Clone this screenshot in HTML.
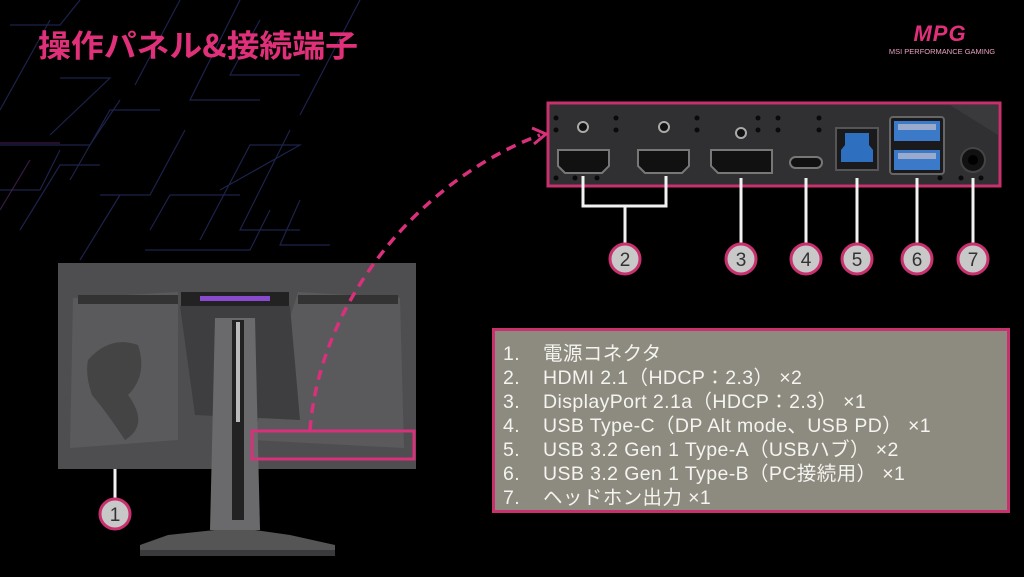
<!DOCTYPE html>
<html><head><meta charset="utf-8"><style>
html,body{margin:0;padding:0;background:#000;width:1024px;height:577px;overflow:hidden;font-family:"Liberation Sans","Noto Sans CJK JP",sans-serif}
svg{position:absolute;left:0;top:0}
.spec{position:absolute;left:492px;top:328px;width:512px;height:179px;background:#8d8a7f;border:3px solid #c8306e;box-sizing:content-box}
.spec div{position:absolute;left:8px;color:#f4f4f0;font-size:19.5px;line-height:24px;white-space:nowrap;letter-spacing:0.4px}
.spec span{display:inline-block;width:40px}
</style></head><body>
<svg width="1024" height="577" viewBox="0 0 1024 577">
<g fill="none" stroke="#232858" stroke-width="1.2" opacity="0.85">
<path d="M10 25 L60 25 L80 0"/><path d="M0 110 L50 20"/><path d="M50 135 L110 78 L60 78"/>
<path d="M70 180 L110 110 L160 110"/><path d="M100 195 L150 195 L185 130"/>
<path d="M0 145 L90 145 L120 100"/><path d="M20 230 L60 165 L100 165"/>
<path d="M120 195 L80 260"/><path d="M150 230 L170 195 L240 195"/>
<path d="M180 0 L135 85"/><path d="M240 0 L190 100 L260 100"/>
<path d="M220 190 L300 145 L250 145 L200 240"/><path d="M290 130 L240 230 L300 230"/>
<path d="M260 20 L230 75 L300 75"/><path d="M360 0 L300 115"/>
<path d="M145 250 L250 250 L270 210"/><path d="M0 190 L40 190 L60 150"/>
<path d="M300 200 L280 245 L330 245"/>
</g>
<g fill="none" stroke="#4a2258" stroke-width="1.2" opacity="0.8">
<path d="M0 143 L60 143"/><path d="M0 210 L30 160"/>
</g>
<!-- title -->
<text x="38" y="57" fill="#e0307a" font-size="31" font-weight="bold" font-family="'Noto Sans CJK JP',sans-serif" textLength="320" lengthAdjust="spacingAndGlyphs">操作パネル&amp;接続端子</text>
<!-- logo -->
<text x="940" y="41" fill="#e0307a" font-size="22" font-weight="bold" font-style="italic" text-anchor="middle" font-family="'Liberation Sans',sans-serif" letter-spacing="1">MPG</text>
<text x="942" y="54" fill="#e8a0c0" font-size="7.5" text-anchor="middle" font-family="'Liberation Sans',sans-serif">MSI PERFORMANCE GAMING</text>

<!-- port panel -->
<rect x="548" y="103" width="452" height="83" fill="#303033" stroke="#c8306e" stroke-width="3"/>
<path d="M950 105 L998 105 L998 135 Z" fill="#3a3a3d"/>
<g fill="#0a0a0a">
<circle cx="556" cy="118" r="2.5"/><circle cx="556" cy="130" r="2.5"/><circle cx="616" cy="118" r="2.5"/><circle cx="616" cy="130" r="2.5"/>
<circle cx="697" cy="118" r="2.5"/><circle cx="697" cy="130" r="2.5"/><circle cx="758" cy="118" r="2.5"/><circle cx="758" cy="130" r="2.5"/>
<circle cx="778" cy="118" r="2.5"/><circle cx="778" cy="130" r="2.5"/><circle cx="819" cy="118" r="2.5"/><circle cx="819" cy="130" r="2.5"/>
<circle cx="556" cy="178" r="2.5"/><circle cx="575" cy="178" r="2.5"/><circle cx="597" cy="178" r="2.5"/>
<circle cx="940" cy="178" r="2.5"/><circle cx="961" cy="178" r="2.5"/><circle cx="981" cy="178" r="2.5"/>
</g>
<g fill="#111" stroke="#aaa" stroke-width="2"><circle cx="583" cy="127" r="5"/><circle cx="664" cy="127" r="5"/><circle cx="741" cy="133" r="5"/></g>
<g fill="#111" stroke="#777" stroke-width="2">
<path d="M558 150 L609 150 L609 166 L602 173 L565 173 L558 166 Z"/>
<path d="M638 150 L689 150 L689 166 L682 173 L645 173 L638 166 Z"/>
<path d="M711 150 L772 150 L772 173 L718 173 L711 166 Z"/>
<rect x="790" y="157" width="32" height="11" rx="5.5"/>
</g>
<rect x="836" y="128" width="42" height="42" fill="#1a1a1c" stroke="#555" stroke-width="2"/>
<path d="M845 133 L869 133 L869 145 L873 150 L873 162 L841 162 L841 150 L845 145 Z" fill="#2f6fc0"/>
<rect x="890" y="117" width="54" height="57" rx="3" fill="#1a1a1c" stroke="#666" stroke-width="2"/>
<rect x="894" y="121" width="46" height="20" fill="#3a7ac8"/><rect x="894" y="150" width="46" height="20" fill="#3a7ac8"/>
<rect x="898" y="124" width="38" height="6" fill="#9ac"/><rect x="898" y="153" width="38" height="6" fill="#9ac"/>
<circle cx="973" cy="160" r="12" fill="#111" stroke="#444" stroke-width="2"/><circle cx="973" cy="160" r="5" fill="#000"/>

<!-- connector lines -->
<g stroke="#f2f2f2" stroke-width="3" fill="none">
<path d="M583 176 L583 206 L666 206 L666 176"/><path d="M625 206 L625 245"/>
<path d="M741 178 L741 245"/><path d="M806 178 L806 245"/><path d="M857 178 L857 245"/>
<path d="M917 178 L917 245"/><path d="M973 178 L973 245"/>
<path d="M115 457 L115 500"/>
</g>
<g stroke="#c8306e" stroke-width="3" fill="#c8c8c8">
<circle cx="625" cy="259" r="15"/><circle cx="741" cy="259" r="15"/><circle cx="806" cy="259" r="15"/>
<circle cx="857" cy="259" r="15"/><circle cx="917" cy="259" r="15"/><circle cx="973" cy="259" r="15"/>
<circle cx="115" cy="514" r="15"/>
</g>
<g fill="#333" font-size="19" text-anchor="middle" font-family="'Liberation Sans',sans-serif">
<text x="625" y="266">2</text><text x="741" y="266">3</text><text x="806" y="266">4</text>
<text x="857" y="266">5</text><text x="917" y="266">6</text><text x="973" y="266">7</text><text x="115" y="521">1</text>
</g>

<!-- monitor -->
<rect x="58" y="263" width="358" height="206" fill="#4e4e50"/>
<path d="M73 298 L178 292 L178 440 L70 448 Z" fill="#5a5a5c"/>
<path d="M298 292 L400 298 L404 448 L252 440 Z" fill="#5a5a5c"/>
<rect x="78" y="295" width="100" height="9" fill="#333"/><rect x="298" y="295" width="100" height="9" fill="#333"/>
<rect x="181" y="292" width="108" height="14" fill="#222"/>
<rect x="200" y="296" width="70" height="5" fill="#8a4ad0"/>
<path d="M180 306 L290 306 L300 420 L195 415 Z" fill="#3e3e40"/>
<path d="M215 318 L255 318 L260 530 L210 530 Z" fill="#6a6a6c"/>
<rect x="232" y="320" width="12" height="200" fill="#222"/>
<rect x="236" y="322" width="4" height="100" fill="#bbb"/>
<path d="M168 535 L215 530 L255 530 L290 535 L335 545 L335 555 L140 555 L140 545 Z" fill="#555"/>
<path d="M140 550 L335 550 L335 556 L140 556 Z" fill="#3a3a3c"/>
<path d="M88 360 Q110 335 138 345 Q148 375 128 395 Q150 425 125 440 Q105 410 92 395 Q85 375 88 360 Z" fill="#3a3a3c" opacity="0.7"/>
<rect x="252" y="431" width="162" height="28" fill="none" stroke="#d8307a" stroke-width="3"/>
<path d="M310 430 C320 300 420 180 540 135" fill="none" stroke="#d8307a" stroke-width="3.5" stroke-dasharray="10 7"/>
<path d="M532 128 L546 134 L534 144" fill="none" stroke="#d8307a" stroke-width="3"/>
</svg>
<div class="spec">
<div style="top:11px"><span>1.</span>電源コネクタ</div>
<div style="top:35px"><span>2.</span>HDMI 2.1（HDCP：2.3） ×2</div>
<div style="top:59px"><span>3.</span>DisplayPort 2.1a（HDCP：2.3） ×1</div>
<div style="top:83px"><span>4.</span>USB Type-C（DP Alt mode、USB PD） ×1</div>
<div style="top:107px"><span>5.</span>USB 3.2 Gen 1 Type-A（USBハブ） ×2</div>
<div style="top:131px"><span>6.</span>USB 3.2 Gen 1 Type-B（PC接続用） ×1</div>
<div style="top:155px"><span>7.</span>ヘッドホン出力 ×1</div>
</div>
</body></html>
